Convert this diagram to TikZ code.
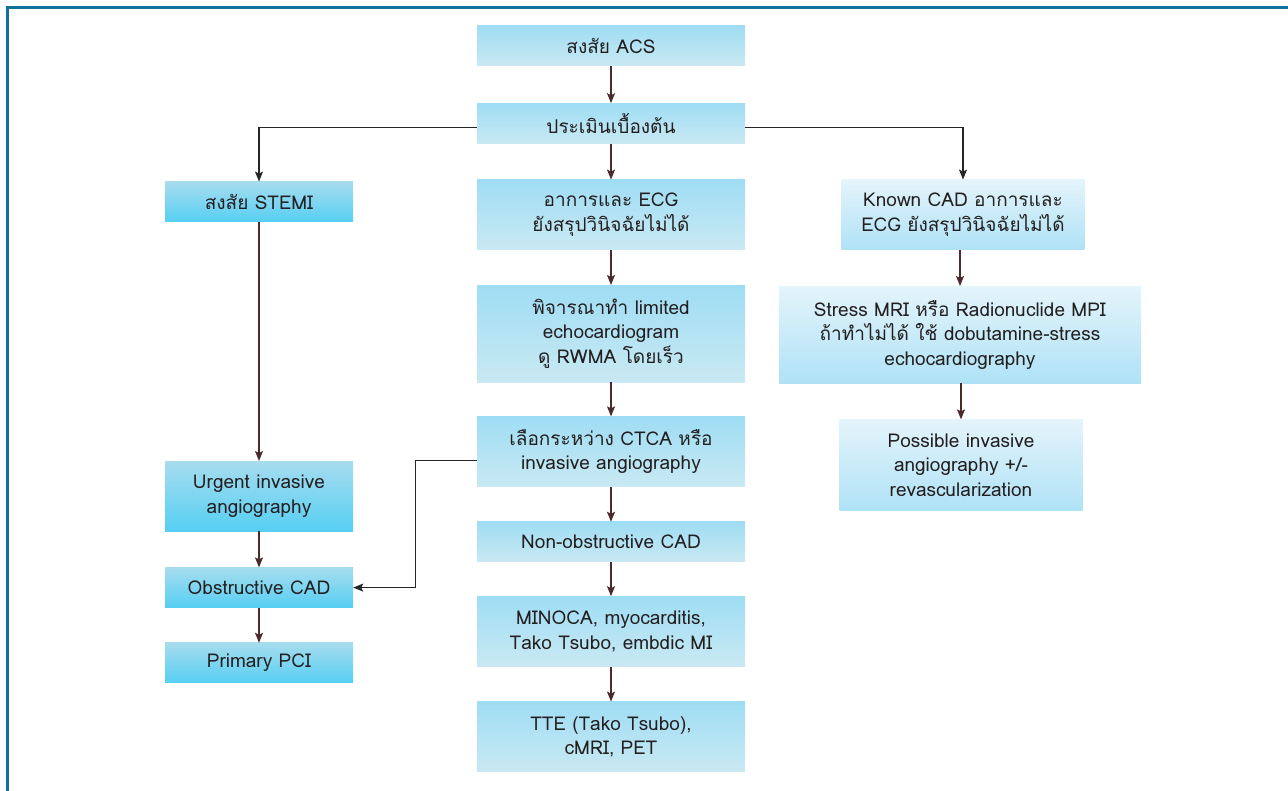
\documentclass[tikz,border=0pt]{standalone}
\usepackage{fontspec}
\setmainfont[Script=Thai]{Loma}
\usetikzlibrary{positioning,arrows.meta}
\definecolor{frameblue}{HTML}{14709A}
\definecolor{ink}{HTML}{231F20}
\definecolor{arrowbrown}{HTML}{4A2A2D}
\definecolor{ctop}{HTML}{9FDDF4}
\definecolor{cbot}{HTML}{C9E9F3}
\definecolor{ltop}{HTML}{A6DCEE}
\definecolor{lbot}{HTML}{56CFF3}
\definecolor{rtop}{HTML}{E4F4FB}
\definecolor{rbot}{HTML}{AFE2F6}

\begin{document}
\begin{tikzpicture}[%
    >={Stealth[length=10pt,width=8pt,inset=2pt]},
    node distance=35pt,         % gap between boxes in a column
    ]
% -------------------------------------------------
% Box and connector styles
\tikzset{
  base/.style={align=center, text=ink, inner sep=2pt,
    font={\fontsize{19}{24.5}\selectfont}},
  cbox/.style={base, minimum width=268pt, top color=ctop, middle color=cbot, bottom color=cbot},
  lbox/.style={base, minimum width=188pt, top color=ltop, middle color=ltop, bottom color=lbot},
  rbox/.style={base, minimum width=243pt, top color=rtop, middle color=rtop, bottom color=rbot},
  one/.style={minimum height=40pt},
  two/.style={minimum height=70pt},
  three/.style={minimum height=97pt},
  go/.style={->, draw=arrowbrown, line width=1.3pt},
  elbow/.style={->, draw=black!85, line width=1.2pt},
}
\useasboundingbox (0,0) rectangle (1288pt,791pt);
\draw[frameblue, line width=3pt] (7.5pt,0) -- (7.5pt,783.5pt) -- (1288pt,783.5pt);
% -------------------------------------------------
% Centre column
\node [cbox, one] (acs) at (611pt,745pt) {สงสัย ACS};
\node [cbox, one, below = 37pt of acs] (initial) {ประเมินเบื้องต้น};
\node [cbox, two, below = 36pt of initial] (unclear) {อาการและ ECG\\ยังสรุปวินิจฉัยไม่ได้};
\node [cbox, three, below = of unclear] (echo) {พิจารณาทำ limited\\echocardiogram\\ดู RWMA โดยเร็ว};
\node [cbox, two, below = 34pt of echo] (choose) {เลือกระหว่าง CTCA หรือ\\invasive angiography};
\node [cbox, one, below = of choose] (nonobs) {Non-obstructive CAD};
\node [cbox, two, below = 34pt of nonobs] (minoca) {MINOCA, myocarditis,\\Tako Tsubo, embdic MI};
\node [cbox, two, below = of minoca] (tte) {TTE (Tako Tsubo),\\cMRI, PET};
% Left column
\node [lbox, one, below = 38pt of initial, xshift=-352pt] (stemi) {สงสัย STEMI};
\node [lbox, two, below = 239pt of stemi] (urgent) {Urgent invasive\\angiography};
\node [lbox, one, below = 36pt of urgent] (obs) {Obstructive CAD};
\node [lbox, one, below = of obs] (pci) {Primary PCI};
% Right column
\node [rbox, two, below = 36pt of initial, xshift=352pt] (knowncad) {Known CAD อาการและ\\ECG ยังสรุปวินิจฉัยไม่ได้};
\node [rbox, three, minimum width=362pt, below = 36pt of knowncad, xshift=-3pt] (stress) {Stress MRI หรือ Radionuclide MPI\\ถ้าทำไม่ได้ ใช้ dobutamine-stress\\echocardiography};
\node [rbox, minimum height=91pt, below = 36pt of stress, xshift=1pt] (possible) {Possible invasive\\angiography +/-\\revascularization};

% -------------------------------------------------
\draw[go] (acs) -- (initial);
\draw[go] (initial) -- (unclear);
\draw[go] (unclear) -- (echo);
\draw[go] (echo) -- (choose);
\draw[go] (choose) -- (nonobs);
\draw[go] (nonobs) -- (minoca);
\draw[go] (minoca) -- (tte);
\draw[elbow] ([yshift=-4pt]initial.west) -| (stemi.north);
\draw[elbow] ([yshift=-4pt]initial.east) -| (knowncad.north);
\draw[go] (stemi) -- (urgent);
\draw[go] (urgent) -- (obs);
\draw[go] (obs) -- (pci);
\draw[go] (knowncad.south -| stress.north) -- (stress);
\draw[go] (stress.south -| possible.north) -- (possible);
\draw[elbow] ([yshift=-9pt]choose.west) -- ++(-61pt,0) |- (obs.east);
% -------------------------------------------------
\end{tikzpicture}
\end{document}
